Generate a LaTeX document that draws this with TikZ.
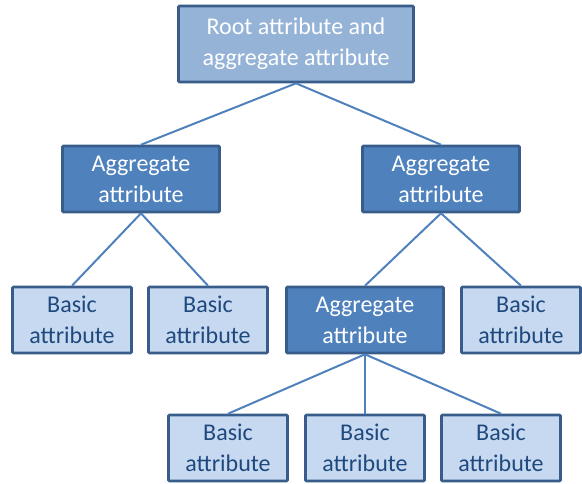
\documentclass[tikz,border=0pt]{standalone}
\usepackage{fontspec}
\setmainfont{Carlito}
\definecolor{edgeblue}{HTML}{385D8A}
\definecolor{linkblue}{HTML}{4F81BD}
\definecolor{rootfill}{HTML}{95B3D7}
\definecolor{aggfill}{HTML}{4F81BD}
\definecolor{basicfill}{HTML}{C6D9F1}
\definecolor{basictext}{HTML}{1F497D}
\begin{document}
\begin{tikzpicture}[x=1pt,y=-1pt,
  box/.style={draw=edgeblue,line width=2.6pt,rounded corners=1pt,align=center,
    inner sep=0pt,font=\fontsize{24}{31}\selectfont},
  rootbox/.style={box,fill=rootfill,text=white,minimum width=235pt,minimum height=76pt},
  aggbox/.style={box,fill=aggfill,text=white,minimum width=157pt,minimum height=66pt},
  basicbox/.style={box,fill=basicfill,text=basictext,minimum width=119pt,minimum height=66pt},
  link/.style={draw=linkblue,line width=2pt}]
\useasboundingbox (0,0) rectangle (582,483);
% tree levels
\node[rootbox]  (root) at (296,44)  {Root attribute and\\aggregate attribute};
\node[aggbox]   (aggL) at (141,179) {Aggregate\\attribute};
\node[aggbox]   (aggR) at (441,179) {Aggregate\\attribute};
\node[basicbox] (b1)   at (72,320)  {Basic\\attribute};
\node[basicbox] (b2)   at (208,320) {Basic\\attribute};
\node[aggbox]   (aggM) at (365,320) {Aggregate\\attribute};
\node[basicbox] (b3)   at (521,320) {Basic\\attribute};
\node[basicbox] (b4)   at (228,448) {Basic\\attribute};
\node[basicbox] (b5)   at (365,448) {Basic\\attribute};
\node[basicbox] (b6)   at (501,448) {Basic\\attribute};
% connectors
\draw[link] (root.south) -- (aggL.north);
\draw[link] (root.south) -- (aggR.north);
\draw[link] (aggL.south) -- (b1.north);
\draw[link] (aggL.south) -- (b2.north);
\draw[link] (aggR.south) -- (aggM.north);
\draw[link] (aggR.south) -- (b3.north);
\draw[link] (aggM.south) -- (b4.north);
\draw[link] (aggM.south) -- (b5.north);
\draw[link] (aggM.south) -- (b6.north);
\end{tikzpicture}
\end{document}
